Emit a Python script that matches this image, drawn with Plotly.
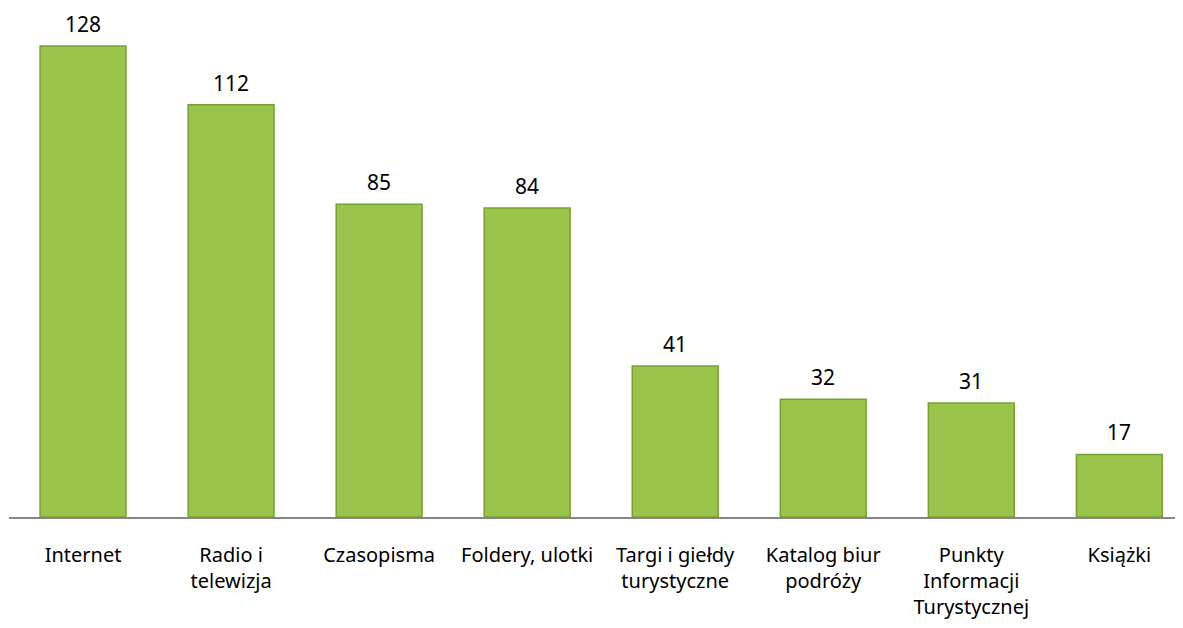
import plotly.graph_objects as go

categories = ['Internet', 'Radio i<br>telewizja', 'Czasopisma', 'Foldery, ulotki',
              'Targi i giełdy<br>turystyczne', 'Katalog biur<br>podróży',
              'Punkty<br>Informacji<br>Turystycznej', 'Książki']
values = [128, 112, 85, 84, 41, 32, 31, 17]

fig = go.Figure()
fig.add_trace(go.Bar(
    x=categories, y=values,
    marker=dict(color='#9bc44b', line=dict(color='#76a030', width=1.5)),
))

# value labels sit a bit higher above the bars than plotly's "outside" text
for cat, val in zip(categories, values):
    fig.add_annotation(x=cat, y=val, text=str(val), showarrow=False,
                       yanchor='bottom', yshift=6,
                       font=dict(size=21, color='#000000', family='Noto Sans'))

# page body has an 8px margin, so the figure is sized/offset to compensate
fig.update_layout(
    width=1175, height=620,
    margin=dict(l=1, r=0, t=10, b=111),
    plot_bgcolor='white', paper_bgcolor='white',
    bargap=0.42, showlegend=False,
    font=dict(family='Noto Sans', size=20, color='#000000'),
)
fig.update_xaxes(
    range=[-0.5, 7.43], showline=True, linecolor='#868686', linewidth=2,
    ticks='', ticklabelstandoff=19, showgrid=False, zeroline=False,
)
fig.update_yaxes(range=[0, 135.6], visible=False, showgrid=False, zeroline=False)

fig.write_html("out.html")
